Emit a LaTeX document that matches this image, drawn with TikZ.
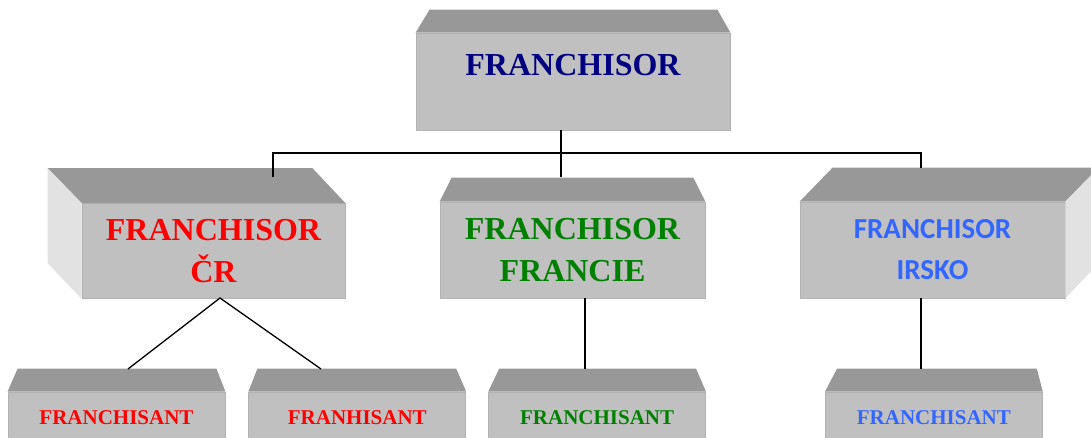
\documentclass[tikz,border=0pt]{standalone}
\usepackage{fontspec}
\setmainfont{Liberation Serif}
\newfontfamily\calibrifont{Carlito}
\usetikzlibrary{positioning,calc}
\definecolor{frontgray}{RGB}{192,192,192}
\definecolor{topgray}{RGB}{152,152,152}
\definecolor{sidegray}{RGB}{226,226,226}
\definecolor{edgegray}{RGB}{178,178,178}
\definecolor{navytext}{RGB}{0,0,128}
\definecolor{redtext}{RGB}{255,0,0}
\definecolor{greentext}{RGB}{0,128,0}
\definecolor{bluetext}{RGB}{51,102,255}
\tikzstyle{fbox}=[rectangle, fill=frontgray, draw=edgegray, line width=0.8pt,
                  inner sep=0pt, text centered]
\tikzstyle{bigbox}=[fbox, font=\bfseries\fontsize{32}{42}\selectfont]
\tikzstyle{sansbox}=[fbox, font=\calibrifont\bfseries\fontsize{29}{41}\selectfont,
                     text=bluetext]
\tikzstyle{smallbox}=[fbox, minimum width=217pt, minimum height=50pt,
                      text height=15pt, text depth=0pt,
                      font=\bfseries\fontsize{21}{25}\selectfont]
\tikzstyle{topface}=[fill=topgray]
\tikzstyle{sideface}=[fill=sidegray]
\tikzstyle{pline}=[-, line width=1.3pt]
\begin{document}
\begin{tikzpicture}[x=1pt,y=-1pt]
\clip (0,0) rectangle (1091,438);

\node (FSOR) [bigbox, minimum width=314pt, minimum height=97pt,
text height=23pt, text depth=35pt, text=navytext] at (573,81.5) {FRANCHISOR};
\fill[topface] (FSOR.north west) -- ++(14,-23) -- ($(FSOR.north east)+(-13,-23)$) -- (FSOR.north east) -- cycle;

\node (CR) [bigbox, align=center, minimum width=263pt, minimum height=95pt,
text=redtext] at (213.5,251) {FRANCHISOR\\ČR};
\fill[topface] (CR.north west) -- ++(-34,-35) -- ($(CR.north east)+(-33,-35)$) -- (CR.north east) -- cycle;
\fill[sideface] (CR.north west) -- ++(-34,-35) -- ++(0,95) -- (CR.south west) -- cycle;

\node (FR) [bigbox, align=center, minimum width=265pt, minimum height=96pt,
text=greentext] at (572.5,250) {FRANCHISOR\\FRANCIE};
\fill[topface] (FR.north west) -- ++(12,-24) -- ($(FR.north east)+(-12,-24)$) -- (FR.north east) -- cycle;

\node (IE) [sansbox, align=center, minimum width=265pt, minimum height=96pt]
at (932.5,250) {FRANCHISOR\\IRSKO};
\fill[topface] (IE.north west) -- ++(33,-34) -- ($(IE.north east)+(33,-34)$) -- (IE.north east) -- cycle;
\fill[sideface] (IE.north east) -- ++(33,-34) -- ++(0,96) -- (IE.south east) -- cycle;

\node (CR1) [smallbox, text=redtext] at (116.5,417) {FRANCHISANT};
\node (CR2) [smallbox, text=redtext, right=23pt of CR1] {FRANHISANT};
\node (FR1) [smallbox, text=greentext, right=22pt of CR2] {FRANCHISANT};
\node (IE1) [smallbox, text=bluetext, right=119pt of FR1] {FRANCHISANT};
\fill[topface] (CR1.north west) -- ++(10,-23) -- ($(CR1.north east)+(-9,-23)$) -- (CR1.north east) -- cycle;
\fill[topface] (CR2.north west) -- ++(9,-23) -- ($(CR2.north east)+(-10,-23)$) -- (CR2.north east) -- cycle;
\fill[topface] (FR1.north west) -- ++(11,-23) -- ($(FR1.north east)+(-10,-23)$) -- (FR1.north east) -- cycle;
\fill[topface] (IE1.north west) -- ++(12,-23) -- ($(IE1.north east)+(-6,-23)$) -- (IE1.north east) -- cycle;

\coordinate (bus) at (561,153);
\coordinate (CRin) at (273,177);
\coordinate (FRin) at (561,177);
\coordinate (IEin) at (921,168);
\draw[pline] (FSOR.south -| bus) -- (FRin);
\draw[pline] (bus) -| (CRin);
\draw[pline] (bus) -| (IEin);

\coordinate (CRout) at (220,298);
\coordinate (CR1in) at (128,369);
\coordinate (CR2in) at (321,369);
\coordinate (FR1in) at (585,369);
\coordinate (IE1in) at (921,369);
\draw[pline] (CR1in) -- (CRout) -- (CR2in);
\draw[pline] (FR.south -| FR1in) -- (FR1in);
\draw[pline] (IE.south -| IE1in) -- (IE1in);

\end{tikzpicture}
\end{document}
